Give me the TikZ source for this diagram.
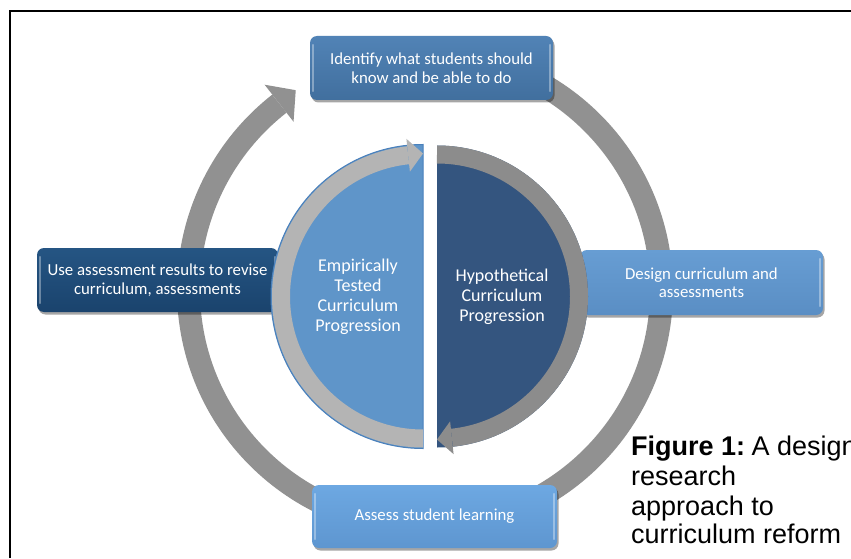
\documentclass[tikz,border=0pt]{standalone}
\usepackage{fontspec}
\setmainfont{Carlito}
\newfontfamily\capfont{Liberation Sans}
\usetikzlibrary{shadows}
\definecolor{ringgray}{HTML}{919191}
\definecolor{lightband}{HTML}{B4B4B4}
\definecolor{darkband}{HTML}{8C8C8C}
\definecolor{leftfill}{HTML}{5F95C9}
\definecolor{leftedge}{HTML}{4A80BB}
\definecolor{rightfill}{HTML}{34557F}
\definecolor{topA}{HTML}{5183B6}
\definecolor{topB}{HTML}{416F9E}
\definecolor{lbA}{HTML}{255583}
\definecolor{lbB}{HTML}{1A436D}
\definecolor{rbA}{HTML}{679DD3}
\definecolor{rbB}{HTML}{5A8EC4}
\definecolor{bbA}{HTML}{6DA8E2}
\definecolor{bbB}{HTML}{5E96D0}
\tikzset{
  boxbase/.style={rounded corners=7pt, text=white, align=center, inner sep=0pt,
    font=\fontsize{16.8}{18.5}\selectfont,
    drop shadow={shadow xshift=1.5pt, shadow yshift=-2.5pt, opacity=0.35, fill=black}},
  hilite/.style={white, opacity=0.35, line width=2pt, line cap=round},
  halftext/.style={text=white, align=center, inner sep=0pt, font=\fontsize{18}{20}\selectfont},
  capstyle/.style={anchor=base west, inner sep=0pt, font=\capfont\fontsize{27}{29.5}\selectfont}
}
\begin{document}
\begin{tikzpicture}[x=1pt,y=1pt]
\useasboundingbox (0,0) rectangle (851,558);
\fill[white] (0,0) rectangle (851,558);
\coordinate (C) at (425,268);
% outer cycle ring with arrowhead
\draw[ringgray, line width=23pt] ([shift={(90:236.5)}]C) arc[start angle=90, end angle=-232, radius=236.5];
\fill[ringgray] ([shift={(128:213.5)}]C) -- ([shift={(128:260.5)}]C) -- ([shift={(122.9:238)}]C) -- cycle;
% boxes
\node[boxbase, top color=topA, bottom color=topB, minimum width=243pt, minimum height=64pt] (top) at (431.5,490) {Identify what students should\\know and be able to do};
\node[boxbase, top color=rbA, bottom color=rbB, minimum width=243pt, minimum height=65pt] (right) at (701.5,275.5) {Design curriculum and\\assessments};
\node[boxbase, top color=bbA, bottom color=bbB, minimum width=245pt, minimum height=63pt] (bottom) at (434.5,41.5) {Assess student learning};
\node[boxbase, top color=lbA, bottom color=lbB, minimum width=241pt, minimum height=64pt] (left) at (157.5,278) {Use assessment results to revise\\curriculum, assessments};
\foreach \b in {top,right,bottom,left}{
  \draw[hilite] ([xshift=3pt,yshift=-9pt]\b.north west) -- ([xshift=3pt,yshift=9pt]\b.south west);
  \draw[hilite] ([xshift=-3pt,yshift=-9pt]\b.north east) -- ([xshift=-3pt,yshift=9pt]\b.south east);
}
% left half
\coordinate (L) at (423,261.5);
\fill[leftfill, draw=leftedge, line width=1pt] ([shift={(90:152)}]L) arc[start angle=90, end angle=270, radius=152] -- cycle;
\draw[lightband, line width=18pt] ([shift={(270:142)}]L) arc[start angle=270, end angle=96, radius=142];
\fill[lightband] ([shift={(96:125.5)}]L) -- ([shift={(96:158.5)}]L) -- ([shift={(90:143)}]L) -- cycle;
% right half
\coordinate (R) at (437,261.5);
\fill[rightfill] ([shift={(90:151)}]R) arc[start angle=90, end angle=-90, radius=151] -- cycle;
\draw[darkband, line width=18pt] ([shift={(90:142)}]R) arc[start angle=90, end angle=-84, radius=142];
\fill[darkband] ([shift={(-84:125.5)}]R) -- ([shift={(-84:158.5)}]R) -- ([shift={(-90:143)}]R) -- cycle;
% half texts
\node[halftext] (emp) at (358,261) {Empirically\\Tested\\Curriculum\\Progression};
\node[halftext] (hyp) at (502,261) {Hypothetical\\Curriculum\\Progression};
% caption
\node[capstyle] (cap1) at (631,103) {\textbf{Figure 1:}\kern-1pt\ A design};
\node[capstyle] (cap2) at (631,73) {research};
\node[capstyle] (cap3) at (631,43) {approach to};
\node[capstyle] (cap4) at (631,15) {curriculum reform};
% frame
\draw[line width=2pt, line join=miter] (9.7,0) -- (9.7,547) -- (851,547);
\end{tikzpicture}
\end{document}
